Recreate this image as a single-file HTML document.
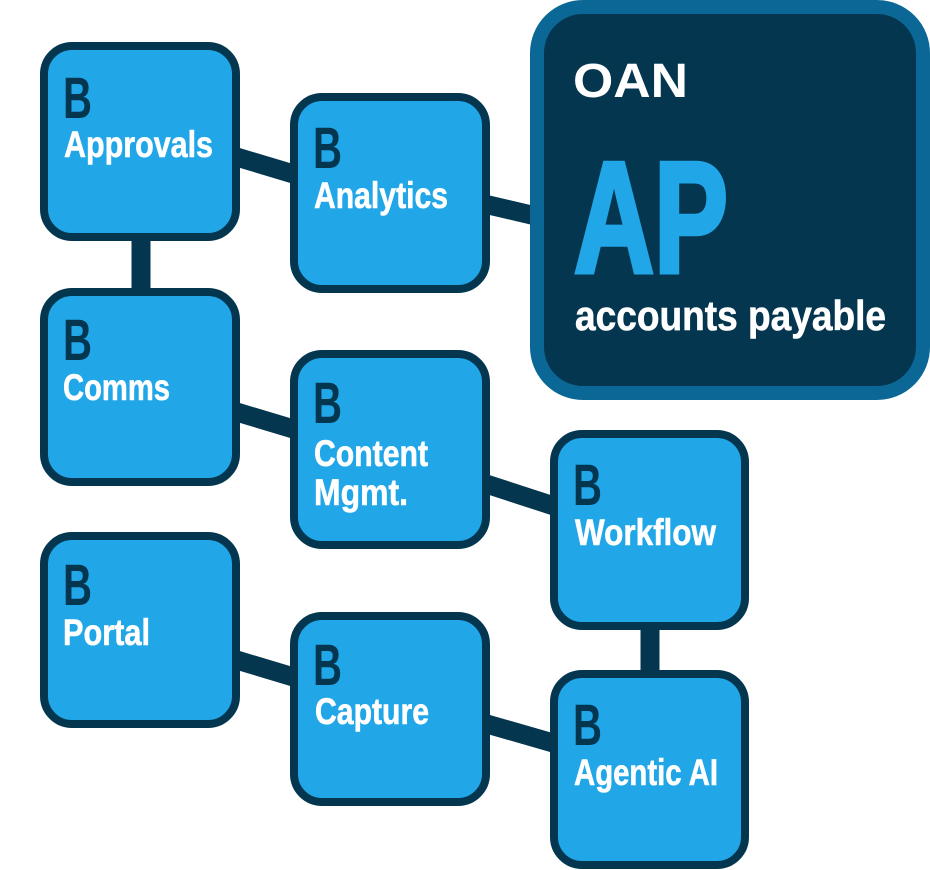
<!DOCTYPE html>
<html><head><meta charset="utf-8"><style>
html,body{margin:0;padding:0;background:#fff;}
svg{display:block;}
.b{font-family:"Liberation Sans Narrow","Liberation Sans",sans-serif;font-weight:bold;fill:#04374f;font-size:58px;}
.l{font-family:"Liberation Sans Narrow","Liberation Sans",sans-serif;font-weight:bold;fill:#fff;font-size:37px;stroke:#fff;stroke-width:0.6;}
</style></head><body>
<svg width="930" height="870" viewBox="0 0 930 870" xmlns="http://www.w3.org/2000/svg">
<g stroke="#04374f" stroke-width="19" fill="none">
<line x1="230" y1="155" x2="300" y2="176"/>
<line x1="480" y1="203" x2="540" y2="217"/>
<line x1="141" y1="230" x2="141" y2="300"/>
<line x1="230" y1="410" x2="300" y2="431"/>
<line x1="480" y1="482" x2="560" y2="508"/>
<line x1="650" y1="620" x2="650" y2="680"/>
<line x1="230" y1="658" x2="300" y2="679"/>
<line x1="480" y1="722" x2="560" y2="745"/>
</g>
<g fill="#21a6e8" stroke="#04374f" stroke-width="8">
<rect x="44" y="46" width="192" height="191" rx="28"/>
<rect x="294" y="97" width="192" height="192" rx="28"/>
<rect x="44" y="292" width="192" height="190" rx="28"/>
<rect x="294" y="354" width="192" height="191" rx="28"/>
<rect x="554" y="434" width="191" height="192" rx="28"/>
<rect x="44" y="536" width="192" height="188" rx="28"/>
<rect x="294" y="616" width="192" height="186" rx="28"/>
<rect x="554" y="674" width="191" height="191" rx="28"/>
</g>
<rect x="537" y="7" width="386" height="386" rx="46" fill="#04374f" stroke="#0b6795" stroke-width="14"/>
<text class="b" x="63" y="118" textLength="29" lengthAdjust="spacingAndGlyphs">B</text><text class="l" x="64" y="157" textLength="149" lengthAdjust="spacingAndGlyphs">Approvals</text>
<text class="b" x="313" y="168" textLength="29" lengthAdjust="spacingAndGlyphs">B</text><text class="l" x="314" y="208" textLength="134" lengthAdjust="spacingAndGlyphs">Analytics</text>
<text class="b" x="63" y="360" textLength="29" lengthAdjust="spacingAndGlyphs">B</text><text class="l" x="63" y="400" textLength="107" lengthAdjust="spacingAndGlyphs">Comms</text>
<text class="b" x="313" y="423" textLength="29" lengthAdjust="spacingAndGlyphs">B</text><text class="l" x="314" y="466" textLength="114" lengthAdjust="spacingAndGlyphs">Content</text><text class="l" x="314" y="505" textLength="94" lengthAdjust="spacingAndGlyphs">Mgmt.</text>
<text class="b" x="573" y="505" textLength="29" lengthAdjust="spacingAndGlyphs">B</text><text class="l" x="575" y="545" textLength="141" lengthAdjust="spacingAndGlyphs">Workflow</text>
<text class="b" x="63" y="605" textLength="29" lengthAdjust="spacingAndGlyphs">B</text><text class="l" x="63" y="645" textLength="87" lengthAdjust="spacingAndGlyphs">Portal</text>
<text class="b" x="313" y="685" textLength="29" lengthAdjust="spacingAndGlyphs">B</text><text class="l" x="315" y="724" textLength="114" lengthAdjust="spacingAndGlyphs">Capture</text>
<text class="b" x="573" y="745" textLength="29" lengthAdjust="spacingAndGlyphs">B</text><text class="l" x="574" y="785" textLength="144" lengthAdjust="spacingAndGlyphs">Agentic AI</text>
<text x="573" y="97" font-family="Liberation Sans" font-weight="bold" font-size="48" fill="#fff" textLength="115" lengthAdjust="spacingAndGlyphs">OAN</text>
<text x="574" y="272" font-family="Liberation Sans Narrow, Liberation Sans, sans-serif" font-weight="bold" font-size="158" fill="#21a6e8" stroke="#21a6e8" stroke-width="5" textLength="154" lengthAdjust="spacingAndGlyphs">AP</text>
<text x="575" y="330" font-family="Liberation Sans Narrow, Liberation Sans, sans-serif" font-weight="bold" font-size="42" fill="#fff" stroke="#fff" stroke-width="0.6" textLength="311" lengthAdjust="spacingAndGlyphs">accounts payable</text>
</svg>
</body></html>
